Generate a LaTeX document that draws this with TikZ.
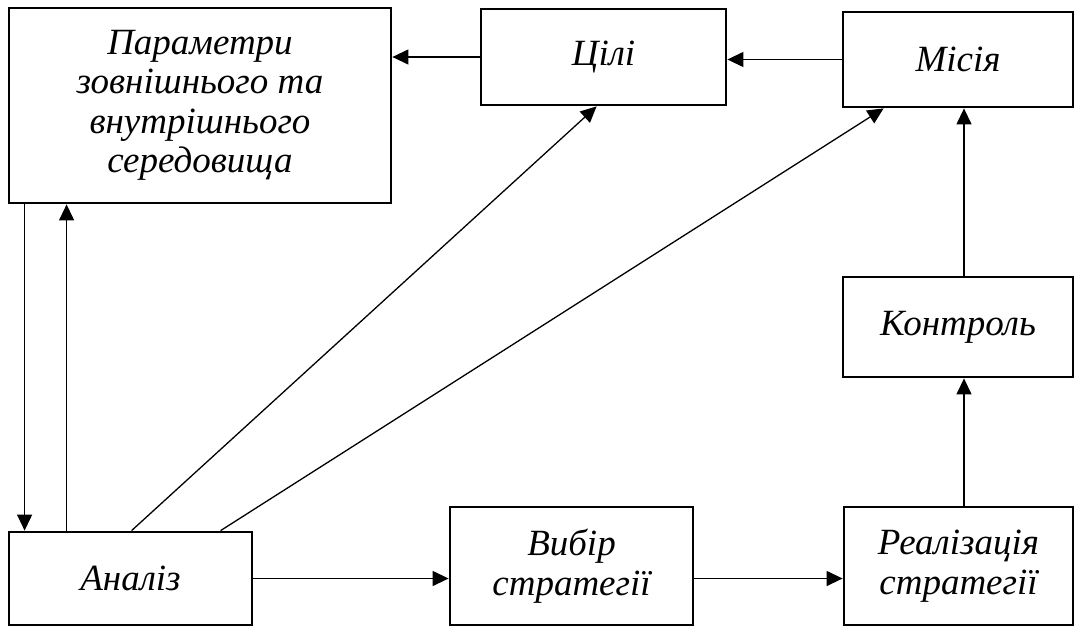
\documentclass[tikz,border=0pt]{standalone}
\usepackage{fontspec}
\setmainfont{Liberation Serif}
\usetikzlibrary{arrows.meta,calc}
\begin{document}
\begin{tikzpicture}[x=1pt,y=-1pt,
  box/.style={draw,line width=2.8pt,inner sep=0pt,align=center,
    font=\fontsize{37}{39.5}\selectfont\itshape},
  arr/.style={line width=1.3pt,-{Triangle[length=16pt,width=15pt]}}]
\useasboundingbox (0,0) rectangle (1081,626);
\node[box,minimum width=382,minimum height=195] (p) at (200,105.5) {Параметри\\зовнішнього та\\внутрішнього\\середовища};
\node[box,minimum width=245,minimum height=96] (c) at (603.5,57) {Цілі};
\node[box,minimum width=230,minimum height=95] (m) at (958,59.5) {Місія};
\node[box,minimum width=230,minimum height=100] (k) at (958,327) {Контроль};
\node[box,minimum width=243,minimum height=93] (a) at (130.5,578.5) {Аналіз};
\node[box,minimum width=243,minimum height=118] (v) at (571.5,566) {Вибір\\стратегії};
\node[box,minimum width=229,minimum height=118] (r) at (958.5,566) {Реалізація\\стратегії};
\draw[arr] (c.west) -- (c.west -| p.east);
\draw[arr] (m.west) -- (m.west -| c.east);
\draw[arr] ($(a.north west)+(124,0)$) -- ($(c.south west)+(117,0)$);
\draw[arr] ($(a.north west)+(213,0)$) -- ($(m.south west)+(42,0)$);
\draw[arr] ($(p.south west)+(17,0)$) -- ($(a.north west)+(17,0)$);
\draw[arr] ($(a.north west)+(59,0)$) -- ($(p.south west)+(59,0)$);
\draw[arr] ($(r.north)+(5.5,0)$) -- ($(k.south)+(6,0)$);
\draw[arr] ($(k.north)+(6,0)$) -- ($(m.south)+(6,0)$);
\draw[arr] (a.east) -- (a.east -| v.west);
\draw[arr] (v.east |- a.east) -- (r.west |- a.east);
\end{tikzpicture}
\end{document}
